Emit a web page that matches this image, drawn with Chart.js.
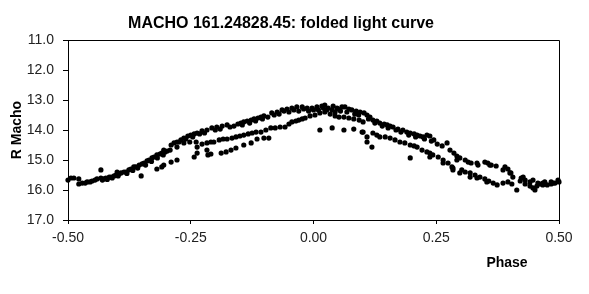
<!DOCTYPE html>
<html>
<head>
<meta charset="utf-8">
<script src="https://cdn.jsdelivr.net/npm/chart.js@4.4.1/dist/chart.umd.min.js"></script>
<style>
  body { margin: 0; background: #fff; }
  #wrap { width: 589px; height: 294px; }
</style>
</head>
<body>
<div id="wrap"><canvas id="lc"></canvas></div>
<script>
const chartTitle = 'MACHO 161.24828.45: folded light curve';
const xTitle = 'Phase';
const yTitle = 'R Macho';

// [phase, R mag]
const leftBranch = [
  [-0.500,15.67],[-0.494,15.60],[-0.488,15.60],[-0.478,15.63],[-0.478,15.80],[-0.471,15.77],
  [-0.465,15.77],[-0.461,15.73],[-0.455,15.73],[-0.451,15.70],[-0.445,15.67],[-0.441,15.63],
  [-0.433,15.60],[-0.427,15.63],[-0.423,15.60],[-0.416,15.57],[-0.412,15.57],[-0.406,15.53],
  [-0.402,15.50],[-0.396,15.47],[-0.392,15.43],[-0.386,15.40],[-0.382,15.40],[-0.376,15.33],
  [-0.372,15.30],[-0.366,15.23],[-0.362,15.23],[-0.355,15.17],[-0.349,15.13],[-0.345,15.10],
  [-0.339,15.03],[-0.335,15.00],[-0.329,14.93],[-0.325,14.90],[-0.319,14.83],[-0.313,14.80],
  [-0.309,14.77],[-0.302,14.73],[-0.298,14.70],[-0.305,14.67],
  [-0.430,15.67],[-0.420,15.65],[-0.410,15.60],[-0.398,15.53],[-0.380,15.45],[-0.368,15.35],
  [-0.358,15.27],[-0.342,15.17],[-0.330,15.05],[-0.318,14.93],[-0.306,14.83]
];

const brightTrack = [
  [-0.290,14.50],[-0.284,14.43],[-0.278,14.40],[-0.270,14.33],[-0.264,14.27],[-0.256,14.20],
  [-0.250,14.17],[-0.243,14.13],[-0.237,14.10],[-0.227,14.03],[-0.217,14.00],[-0.207,13.93],
  [-0.197,13.90],[-0.186,13.87],[-0.176,13.83],[-0.162,13.87],[-0.154,13.80],[-0.148,13.77],
  [-0.142,13.73],[-0.135,13.70],[-0.127,13.67],[-0.121,13.63],[-0.113,13.60],[-0.107,13.57],
  [-0.101,13.53],[-0.093,13.57],[-0.085,13.43],[-0.074,13.40],[-0.064,13.33],[-0.060,13.37],
  [-0.054,13.30],[-0.044,13.27],[-0.040,13.33],[-0.034,13.23],[-0.023,13.23],[-0.020,13.30],
  [-0.013,13.27],[-0.003,13.27],[0.000,13.33],[0.007,13.23],[0.017,13.20],[0.020,13.27],
  [0.023,13.17],[0.030,13.27],[0.038,13.33],[0.040,13.20],[0.048,13.27],[0.050,13.30],
  [0.058,13.23],[0.064,13.23],[0.072,13.30],[0.078,13.33],[0.087,13.37],[0.095,13.40],
  [0.103,13.43],[0.109,13.50],[0.115,13.57],[0.121,13.67],[0.129,13.70],[0.135,13.77],
  [0.144,13.80],[0.150,13.83],[0.156,13.87],[0.162,13.90],[0.172,13.97],[0.182,14.00],
  [0.190,14.07],[0.197,14.10],[0.205,14.13],[0.211,14.17],[0.217,14.20],[0.223,14.23],
  [0.231,14.17],[0.237,14.20],[0.245,14.33],[0.252,14.47],[0.262,14.53],[0.278,14.67],
  [0.286,14.77],[0.292,14.87],[0.298,14.93],[0.309,15.00],[0.315,15.07],[0.321,15.10],
  [0.333,15.10],[0.335,15.17],[0.349,15.07],[0.355,15.10],[0.359,15.17],[0.362,15.17],
  [0.372,15.20],[0.386,15.33],[0.390,15.23],[0.396,15.30],[0.400,15.43],[0.402,15.43],
  [0.406,15.57],[0.423,15.60],[0.427,15.57],[0.431,15.67],[0.441,15.73],[0.447,15.67],
  [0.457,15.77],[0.467,15.77],[0.471,15.73],[0.484,15.73],[0.488,15.77],[0.498,15.67],
  [-0.274,14.40],[-0.260,14.30],[-0.246,14.23],[-0.232,14.13],[-0.222,14.10],[-0.200,14.00],
  [-0.190,13.97],[-0.170,13.90],[-0.145,13.83],[-0.130,13.77],[-0.118,13.70],[-0.104,13.63],
  [-0.080,13.50],[-0.070,13.47],[-0.050,13.40],[-0.030,13.37],[-0.010,13.37],[0.010,13.33],
  [0.027,13.33],[0.044,13.40],[0.055,13.37],[0.068,13.40],[0.084,13.47],[0.092,13.50],
  [0.112,13.63],[0.125,13.77],[0.140,13.87],[0.152,13.93],[0.168,14.00],[0.178,14.07],
  [0.194,14.17],[0.208,14.23],[0.226,14.30],[0.240,14.37]
];

const midTrack = [
  [-0.292,14.67],[-0.278,14.57],[-0.264,14.43],[-0.252,14.40],[-0.239,14.40],[-0.227,14.47],
  [-0.217,14.43],[-0.209,14.40],[-0.203,14.40],[-0.192,14.33],[-0.184,14.30],[-0.176,14.30],
  [-0.166,14.27],[-0.158,14.23],[-0.150,14.20],[-0.142,14.17],[-0.133,14.13],[-0.125,14.10],
  [-0.117,14.07],[-0.107,14.07],[-0.097,14.00],[-0.087,13.93],[-0.078,13.93],[-0.068,13.90],
  [-0.058,13.90],[-0.050,13.80],[-0.044,13.73],[-0.036,13.70],[-0.030,13.67],[-0.023,13.63],
  [-0.017,13.60],[-0.007,13.53],[0.003,13.50],[0.013,13.43],[0.023,13.40],[0.034,13.47],
  [0.044,13.53],[0.052,13.57],[0.062,13.57],[0.072,13.60],[0.082,13.63],[0.093,13.67],
  [0.101,13.73],[0.101,14.07],[0.109,14.23],[0.121,14.10],[0.129,14.17],[0.135,14.23],
  [0.146,14.23],[0.156,14.27],[0.166,14.33],[0.176,14.40],[0.186,14.43],[0.197,14.50],
  [0.205,14.53],[0.211,14.57],[0.221,14.67],[0.231,14.73],[0.237,14.77],[0.243,14.83],
  [0.254,14.90],[0.264,15.00],[0.274,15.10],[0.282,15.23]
];

const faintTrack = [
  [-0.305,15.17],[-0.290,15.07],[-0.278,15.00],[-0.243,14.90],[-0.237,14.77],[-0.215,14.83],
  [-0.209,14.80],[-0.188,14.77],[-0.178,14.73],[-0.168,14.67],[-0.158,14.60],[-0.142,14.50],
  [-0.127,14.43],[-0.115,14.30],[-0.101,14.27],[-0.091,14.27],
  [0.264,15.10],[0.284,15.27],[0.292,15.00],[0.298,15.43],[0.302,15.33],[0.309,15.40],
  [0.319,15.43],[0.319,15.57],[0.329,15.50],[0.333,15.60],[0.339,15.57],[0.349,15.63],
  [0.353,15.73],[0.357,15.70],[0.366,15.77],[0.374,15.83],[0.386,15.77],[0.396,15.73],
  [0.404,15.80],[0.421,15.70],[0.431,15.80],[0.441,15.87],[0.447,15.93],[0.455,15.87],
  [0.461,15.80],[0.467,15.83],[0.476,15.83],[0.484,15.80],[0.492,15.77],[0.500,15.73]
];

const strays = [
  [-0.433,15.33],[-0.400,15.40],[-0.351,15.53],[-0.319,15.30],[-0.309,15.23],[-0.237,14.57],
  [-0.217,14.67],[0.013,14.00],[0.038,13.93],[0.062,14.00],[0.082,13.97],[0.099,14.07],
  [0.109,14.40],[0.119,14.57],[0.197,14.93],[0.237,14.90],[0.272,14.43],[0.284,15.33],
  [0.414,16.00],[0.451,16.00]
];

const allPoints = [...leftBranch, ...brightTrack, ...midTrack, ...faintTrack, ...strays]
  .map(p => ({ x: p[0], y: p[1] }));

const textPlugin = {
  id: 'textPlugin',
  afterDraw(chart) {
    const { ctx, chartArea: a } = chart;
    ctx.save();
    // frame top + right
    ctx.strokeStyle = '#000';
    ctx.lineWidth = 1;
    ctx.beginPath();
    ctx.moveTo(a.left, a.top + 0.5);
    ctx.lineTo(a.right + 0.5, a.top + 0.5);
    ctx.lineTo(a.right + 0.5, a.bottom);
    ctx.stroke();

    ctx.fillStyle = '#000';
    ctx.textAlign = 'center';
    ctx.textBaseline = 'alphabetic';
    ctx.font = 'bold 16px Arial, "Liberation Sans"';
    ctx.fillText(chartTitle, 281, 28);
    ctx.font = 'bold 14px Arial, "Liberation Sans"';
    ctx.fillText(xTitle, 507, 267);
    ctx.translate(21, (a.top + a.bottom) / 2);
    ctx.rotate(-Math.PI / 2);
    ctx.fillText(yTitle, 0, 0);
    ctx.restore();
  }
};

new Chart(document.getElementById('lc'), {
  type: 'scatter',
  data: {
    datasets: [{
      data: allPoints,
      pointRadius: 2.6,
      pointBackgroundColor: '#000',
      pointBorderWidth: 0,
      clip: false
    }]
  },
  options: {
    responsive: true,
    maintainAspectRatio: false,
    animation: false,
    events: [],
    layout: { padding: { top: 40, right: 30, left: 0, bottom: 0 } },
    plugins: { legend: { display: false }, tooltip: { enabled: false } },
    scales: {
      x: {
        type: 'linear',
        min: -0.5,
        max: 0.5,
        afterFit: s => { s.height = 74; },
        grid: { drawOnChartArea: false, drawTicks: true, tickLength: 4, color: '#000' },
        border: { display: true, color: '#000' },
        ticks: {
          stepSize: 0.25,
          padding: 6,
          color: '#222',
          font: { family: 'Arial, "Liberation Sans"', size: 14 },
          callback: v => v.toFixed(2)
        }
      },
      y: {
        min: 11,
        max: 17,
        reverse: true,
        afterFit: s => { s.width = 68; },
        grid: { drawOnChartArea: false, drawTicks: true, tickLength: 5, color: '#000' },
        border: { display: true, color: '#000' },
        ticks: {
          stepSize: 1,
          padding: 9,
          color: '#222',
          font: { family: 'Arial, "Liberation Sans"', size: 14 },
          callback: v => v.toFixed(1)
        }
      }
    }
  },
  plugins: [textPlugin]
});
</script>
</body>
</html>
